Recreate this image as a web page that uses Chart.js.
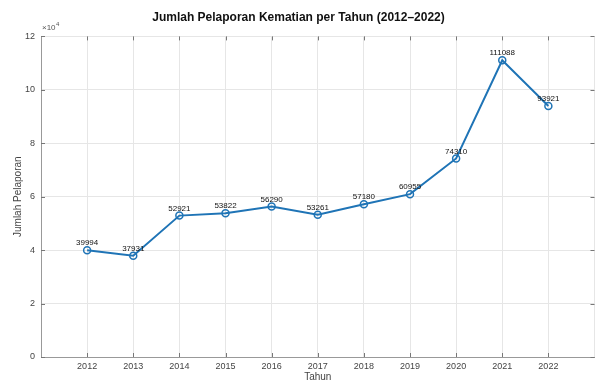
<!DOCTYPE html>
<html>
<head>
<meta charset="utf-8">
<script src="https://cdn.jsdelivr.net/npm/chart.js@4/dist/chart.umd.min.js"></script>
<style>
  html, body { margin: 0; padding: 0; background: #fff; }
  #wrap { width: 600px; height: 383px; }
</style>
</head>
<body>
<div id="wrap"><canvas id="chart"></canvas></div>
<script>
// Data
const years = [2012, 2013, 2014, 2015, 2016, 2017, 2018, 2019, 2020, 2021, 2022];
const reports = [39994, 37931, 52921, 53822, 56290, 53261, 57180, 60955, 74310, 111088, 93921];
const yTicks = [0, 20000, 40000, 60000, 80000, 100000, 120000];

const FONT = 'Liberation Sans, Arial, Helvetica, sans-serif';
const LINE_BLUE = '#1f74b6';

// value labels above each marker + MATLAB style extras
const extrasPlugin = {
    id: 'extras',
    afterDatasetsDraw(chart) {
        const ctx = chart.ctx;
        const meta = chart.getDatasetMeta(0);
        ctx.save();
        ctx.font = '8px ' + FONT;
        ctx.fillStyle = '#111';
        ctx.textAlign = 'center';
        ctx.textBaseline = 'bottom';
        meta.data.forEach((pt, i) => {
            ctx.fillText(String(reports[i]), pt.x, pt.y - 3);
        });
        ctx.restore();
    },
    afterDraw(chart) {
        const ctx = chart.ctx;
        const a = chart.chartArea;
        const xs = chart.scales.x;
        const ys = chart.scales.y;
        ctx.save();
        // inside tick marks
        ctx.strokeStyle = '#777';
        ctx.lineWidth = 1;
        ctx.beginPath();
        years.forEach(yr => {
            const x = Math.round(xs.getPixelForValue(yr)) + 0.5;
            ctx.moveTo(x, a.bottom); ctx.lineTo(x, a.bottom - 4);
            ctx.moveTo(x, a.top); ctx.lineTo(x, a.top + 4);
        });
        yTicks.forEach(v => {
            const y = Math.round(ys.getPixelForValue(v)) + 0.5;
            ctx.moveTo(a.left, y); ctx.lineTo(a.left + 4, y);
            ctx.moveTo(a.right, y); ctx.lineTo(a.right - 4, y);
        });
        ctx.stroke();
        // exponent label
        ctx.fillStyle = '#555';
        ctx.textBaseline = 'alphabetic';
        ctx.textAlign = 'left';
        ctx.font = '8px ' + FONT;
        ctx.fillText('\u00d710', a.left + 1, a.top - 6);
        ctx.font = '6px ' + FONT;
        ctx.fillText('4', a.left + 15, a.top - 10);
        ctx.restore();
    }
};

new Chart(document.getElementById('chart'), {
    type: 'line',
    data: {
        datasets: [{
            label: 'Jumlah Pelaporan',
            data: years.map((yr, i) => ({ x: yr, y: reports[i] })),
            borderColor: LINE_BLUE,
            borderWidth: 2,
            pointRadius: 3.5,
            pointBorderWidth: 1.5,
            pointBorderColor: LINE_BLUE,
            pointBackgroundColor: 'rgba(255,255,255,0)',
            tension: 0
        }]
    },
    options: {
        responsive: true,
        maintainAspectRatio: false,
        animation: false,
        layout: { padding: { left: 0, right: 3, top: 0, bottom: 0 } },
        plugins: {
            legend: { display: false },
            tooltip: { enabled: false },
            title: {
                display: true,
                text: 'Jumlah Pelaporan Kematian per Tahun (2012\u20132022)',
                color: '#111',
                font: { family: FONT, size: 12, weight: 'bold' },
                padding: { top: 10, bottom: 12 }
            }
        },
        scales: {
            x: {
                type: 'linear',
                min: 2011,
                max: 2023,
                afterFit: (scale) => { scale.height = 26; },
                ticks: {
                    stepSize: 1,
                    padding: 4,
                    color: '#444',
                    font: { family: FONT, size: 9 },
                    callback: (v) => (v >= 2012 && v <= 2022 ? String(v) : '')
                },
                grid: { color: '#e6e6e6', drawTicks: false },
                border: { color: '#999' },
                title: {
                    display: true,
                    text: 'Tahun',
                    color: '#444',
                    font: { family: FONT, size: 10 },
                    padding: 0
                }
            },
            y: {
                min: 0,
                max: 120000,
                afterFit: (scale) => { scale.width = 41; },
                afterBuildTicks: (scale) => { scale.ticks = yTicks.map(v => ({ value: v })); },
                ticks: {
                    padding: 6,
                    color: '#444',
                    font: { family: FONT, size: 9 },
                    callback: (v) => String(v / 10000)
                },
                grid: { color: '#e6e6e6', drawTicks: false },
                border: { color: '#999' },
                title: {
                    display: true,
                    text: 'Jumlah Pelaporan',
                    color: '#444',
                    font: { family: FONT, size: 10 },
                    padding: { top: 12, bottom: 0 }
                }
            }
        }
    },
    plugins: [extrasPlugin]
});
</script>
</body>
</html>
